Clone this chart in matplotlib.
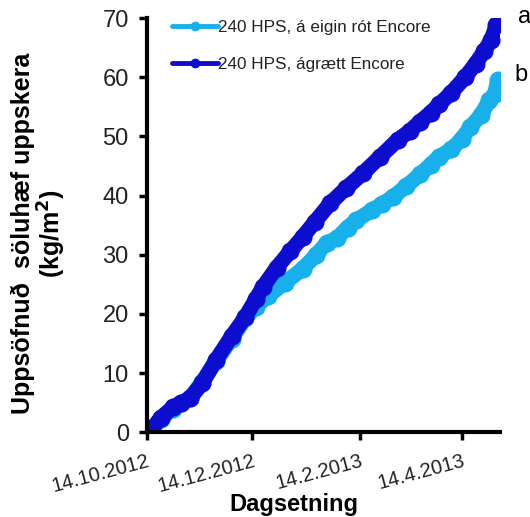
import datetime as dt
import matplotlib
matplotlib.use('Agg')
import matplotlib.pyplot as plt

plt.rcParams['font.family'] = ['Liberation Sans', 'DejaVu Sans']

start = dt.date(2012, 10, 14)

# days after 14.10.2012 and cumulative yield (kg/m2)
days_own = [2, 8, 15, 20, 25, 32, 40, 49, 57, 63, 70, 80, 90, 98, 104, 110, 116, 121,
            130, 136, 142, 150, 158, 164, 169, 176, 182, 187, 193, 198, 201, 203]
own_root = [0.2, 2.2, 4.0, 4.9, 5.8, 8.5, 12.0, 15.8, 19.3, 21.2, 23.0, 25.3, 27.6, 30.0,
            32.0, 32.8, 34.6, 35.8, 37.5, 38.6, 39.7, 41.6, 43.6, 45.2, 46.6, 47.8,
            49.6, 51.6, 53.6, 56.1, 57.2, 59.6]

days_graft = [2, 8, 15, 20, 25, 32, 40, 49, 57, 63, 67, 75, 83, 90, 97, 106, 115, 125,
              135, 145, 152, 158, 164, 169, 176, 184, 190, 195, 199, 202]
grafted = [0.2, 2.4, 4.2, 5.0, 5.7, 8.3, 12.2, 16.2, 19.5, 22.5, 24.5, 27.8, 30.6, 33.0,
           35.5, 38.7, 41.2, 43.8, 46.6, 49.4, 50.9, 52.5, 54.0, 55.4, 57.4, 60.0,
           62.3, 64.4, 66.3, 68.8]

tick_dates = [dt.date(2012, 10, 14), dt.date(2012, 12, 14), dt.date(2013, 2, 14), dt.date(2013, 4, 14)]
tick_labels = ['14.10.2012', '14.12.2012', '14.2.2013', '14.4.2013']

light = '#17B0EA'
dark = '#0D0DD0'

x_own = [start + dt.timedelta(days=d) for d in days_own]
x_graft = [start + dt.timedelta(days=d) for d in days_graft]

fig = plt.figure(figsize=(5.30, 5.17), dpi=100)
ax = fig.add_axes([0.277, 0.164, 0.666, 0.801])

ax.plot(x_own, own_root, color=light, lw=11, solid_capstyle='round', solid_joinstyle='round',
        marker='o', ms=12, label='240 HPS, á eigin rót Encore')
ax.plot(x_graft, grafted, color=dark, lw=11, solid_capstyle='round', solid_joinstyle='round',
        marker='o', ms=12, label='240 HPS, ágrætt Encore')

ax.set_xlim(start, start + dt.timedelta(days=204))
ax.set_ylim(0, 70)
ax.set_yticks(range(0, 71, 10))
ax.set_xticks(tick_dates)
ax.set_xticklabels(tick_labels, rotation=15, ha='right', va='top', rotation_mode='anchor',
                   fontsize=14.5, color='#222222')
ax.tick_params(axis='y', labelsize=17, width=2.5, length=6, direction='out', pad=7,
               labelcolor='#222222')
ax.tick_params(axis='x', width=2.5, length=6, direction='out', pad=8)

for s in ['top', 'right']:
    ax.spines[s].set_visible(False)
for s in ['left', 'bottom']:
    ax.spines[s].set_linewidth(3)

ax.set_xlabel('Dagsetning', fontsize=17, fontweight='bold', va='top')
ax.xaxis.set_label_coords(0.416, -0.147)
ax.set_ylabel('Uppsöfnuð  söluhæf uppskera\n(kg/m$^\\mathbf{2}$)', fontsize=18,
              fontweight='bold', linespacing=1.05)
ax.yaxis.set_label_coords(-0.223, 0.48)

leg = fig.legend(loc='upper left', bbox_to_anchor=(0.325, 0.962), frameon=False, fontsize=12.3,
                 handlelength=2.65, handletextpad=0.05, labelspacing=1.3, borderpad=0,
                 borderaxespad=0)
for h in leg.legend_handles:
    h.set_linewidth(3.5)
    h.set_markersize(6)
for t in leg.get_texts():
    t.set_color('#222222')

ax.text(1.07, 1.002, 'a', transform=ax.transAxes, fontsize=17, ha='center', va='center', clip_on=False)
ax.text(1.06, 0.862, 'b', transform=ax.transAxes, fontsize=17, ha='center', va='center', clip_on=False)

fig.savefig('out.png', dpi=100)
